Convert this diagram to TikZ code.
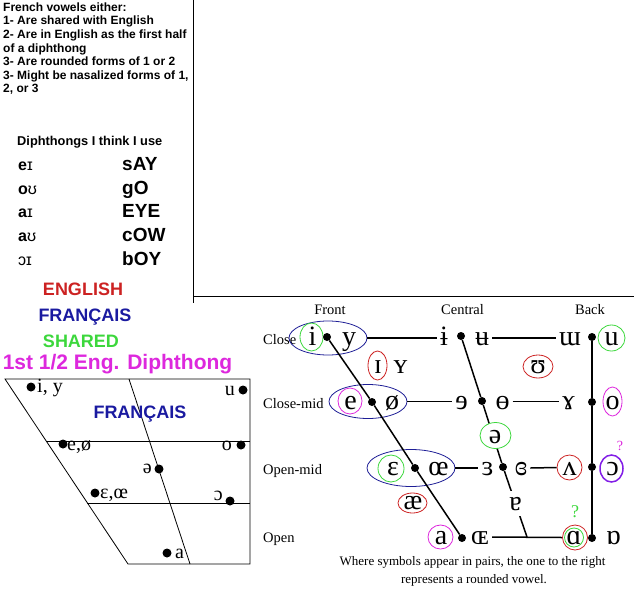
\documentclass[tikz,border=0pt]{standalone}
\usepackage{fontspec}
\setmainfont{Liberation Serif}
\setsansfont{Liberation Sans}
\usetikzlibrary{shapes.geometric}

\definecolor{engred}{RGB}{204,34,34}
\definecolor{frblue}{RGB}{26,26,160}
\definecolor{shgreen}{RGB}{60,215,60}
\definecolor{diphmag}{RGB}{221,40,221}
\definecolor{ringblue}{RGB}{30,30,150}
\definecolor{ringviolet}{RGB}{130,30,230}

\begin{document}
\begin{tikzpicture}[x=1pt,y=-1pt,
  note/.style={anchor=base west, inner sep=0pt, font=\sffamily\bfseries\fontsize{12}{14}\selectfont},
  diph/.style={anchor=base west, inner sep=0pt, font=\sffamily\bfseries\fontsize{16}{18}\selectfont},
  keyword/.style={anchor=base west, inner sep=0pt, font=\sffamily\bfseries\fontsize{19}{22}\selectfont},
  legend/.style={anchor=base, inner sep=0pt, font=\sffamily\bfseries\fontsize{18}{20}\selectfont},
  frdot/.style={circle, fill, inner sep=0pt, minimum size=9pt},
  frlabel/.style={inner sep=0pt, font=\fontsize{20}{22}\selectfont},
  vowel/.style={font=\fontsize{28}{30}\selectfont, text height=15pt, text depth=0pt, inner xsep=3pt, inner ysep=0pt},
  vdot/.style={circle, fill, inner sep=0pt, minimum size=8pt},
  ring/.style={ellipse, draw=#1, line width=0.8pt, inner sep=0pt},
  chartlabel/.style={inner sep=0pt, font=\fontsize{14.5}{16}\selectfont},
  chartline/.style={line width=1.5pt},
]
\useasboundingbox (0,0) rectangle (634,613);

% separators
\draw[line width=1pt] (193,0) -- (193,303);
\draw[line width=1pt] (193,296) -- (634,296);

% notes, top left
\foreach \txt [count=\k from 0] in {French vowels either:, 1- Are shared with English,
    2- Are in English as the first half, of a diphthong, 3- Are rounded forms of 1 or 2,
    {3- Might be nasalized forms of 1,}, {2, or 3}}
  \node[note] (note\k) at (3,11.3+13.6*\k) {\txt};

% diphthongs
\node[anchor=base west, inner sep=0pt, font=\sffamily\bfseries\fontsize{12.8}{14}\selectfont] (diphtitle) at (17,145) {Diphthongs I think I use};
\foreach \ipa/\word [count=\k from 0] in {e{\mdseries ɪ}/sAY, o{\mdseries ʊ}/gO, a{\mdseries ɪ}/EYE, a{\mdseries ʊ}/cOW, {\mdseries ɔɪ}/bOY} {
  \node[diph] (ipa\k) at (18,170.7+23.6*\k) {\ipa};
  \node[keyword] (word\k) at (122,170.7+23.6*\k) {\word};
}

% legend
\node[legend, text=engred] (keyEng) at (83,295) {ENGLISH};
\node[legend, text=frblue] (keyFr) at (85,321) {FRANÇAIS};
\node[legend, text=shgreen] (keyShared) at (81,347.5) {SHARED};
\node[legend, text=diphmag, font=\sffamily\bfseries\fontsize{21}{24}\selectfont] (keyDiph) at (117.5,369) {1st 1/2 Eng. Diphthong};

% French vowel chart
\draw[line width=0.8pt] (5,379) -- (250,379) -- (250,564) -- (128,564) -- cycle;
\draw[line width=0.8pt] (46,441) -- (250,441);
\draw[line width=0.8pt] (87,503) -- (250,503);
\draw[line width=0.8pt] (129,379) -- (190,564);
\foreach \dx/\dy [count=\k] in {31/387, 243/390, 63/444, 241/445, 159/469, 95/493, 230/501, 167/553}
  \node[frdot] (frdot\k) at (\dx,\dy) {};
\node[frlabel, anchor=base west] (frIY) at (37,392) {i, y};
\node[frlabel, anchor=base east] (frU) at (235,395) {u};
\node[legend, text=frblue] (frTitle) at (140,418) {FRANÇAIS};
\node[frlabel, anchor=base west] (frEO) at (67,450) {e,ø};
\node[frlabel, anchor=base east] (frO) at (232,450) {o};
\node[frlabel, anchor=base east] (frSchwa) at (152,473) {ə};
\node[frlabel, anchor=base west] (frEpsOE) at (100,498) {ɛ,œ};
\node[frlabel, anchor=base east] (frOpenO) at (223,500) {ɔ};
\node[frlabel, anchor=base west] (frA) at (175,558) {a};

% IPA chart headings
\node[chartlabel, anchor=base] (hFront) at (330,314) {Front};
\node[chartlabel, anchor=base] (hCentral) at (462.5,314) {Central};
\node[chartlabel, anchor=base] (hBack) at (590,314) {Back};
\node[chartlabel, anchor=base west] (rClose) at (263,344.3) {Close};
\node[chartlabel, anchor=base west] (rCloseMid) at (263,408) {Close-mid};
\node[chartlabel, anchor=base west] (rOpenMid) at (263,474) {Open-mid};
\node[chartlabel, anchor=base west] (rOpen) at (263,542) {Open};

% rings
\node[ring=ringblue, minimum width=78, minimum height=34] (ringCF) at (328,338) {};
\node[ring=shgreen, minimum width=23, minimum height=28] (ringI) at (311.5,337) {};
\node[ring=engred, minimum width=19, minimum height=29] (ringSmallI) at (377.5,365.5) {};
\node[ring=ringblue, minimum width=78, minimum height=34] (ringMF) at (368,401.5) {};
\node[ring=diphmag, minimum width=24, minimum height=26] (ringE) at (350,401) {};
\node[ring=engred, minimum width=30, minimum height=23] (ringUpsilon) at (538,366.5) {};
\node[ring=shgreen, minimum width=27, minimum height=26] (ringU) at (611.5,338) {};
\node[ring=diphmag, minimum width=19, minimum height=29] (ringO) at (612.5,401.5) {};
\node[ring=ringblue, minimum width=88, minimum height=37] (ringOMF) at (411,468) {};
\node[ring=shgreen, minimum width=26, minimum height=27] (ringEps) at (391,468.5) {};
\node[ring=engred, minimum width=29, minimum height=20] (ringAsh) at (412.5,503) {};
\node[ring=engred, minimum width=25, minimum height=25] (ringWedge) at (569.5,467.5) {};
\node[ring=ringviolet, line width=1.5pt, minimum width=23, minimum height=27] (ringOpenO) at (611.5,468.5) {};
\node[ring=diphmag, minimum width=25, minimum height=24] (ringA) at (440.5,537) {};
\node[ring=engred, minimum width=25, minimum height=25] (ringAlpha) at (575,537.5) {};
\node[ring=shgreen, minimum width=19, minimum height=19] (ringAlphaIn) at (574,537.5) {};

% vowels
\node[vowel] (vI) at (312.5,338) {i};
\node[vowel] (vY) at (349,338) {y};
\node[vowel] (vBarI) at (444,338) {ɨ};
\node[vowel] (vBarU) at (482,338) {ʉ};
\node[vowel] (vTurnM) at (570,338) {ɯ};
\node[vowel] (vU) at (611.5,338) {u};
\node[vowel] (vSmallI) at (378,366) {ɪ};
\node[vowel] (vSmallY) at (400.5,366) {ʏ};
\node[vowel] (vUpsilon) at (538,366) {ʊ};
\node[vowel] (vE) at (350.5,401.5) {e};
\node[vowel] (vSlashO) at (392,401.5) {ø};
\node[vowel] (vRevE) at (461.5,401.5) {ɘ};
\node[vowel] (vBarO) at (502.5,401.5) {ɵ};
\node[vowel] (vRamsHorn) at (568.5,401.5) {ɤ};
\node[vowel] (vO) at (612.5,401.5) {o};
\node[vowel] (vEps) at (393,468) {ɛ};
\node[vowel] (vOE) at (438.5,468) {œ};
\node[vowel] (vRevEps) at (487.5,468) {ɜ};
\node[vowel] (vClRevEps) at (521,468) {ɞ};
\node[vowel] (vWedge) at (569.5,468) {ʌ};
\node[vowel] (vOpenO) at (612.5,468) {ɔ};
\node[vowel] (vAsh) at (413,502) {æ};
\node[vowel] (vA) at (441,537) {a};
\node[vowel] (vSmallCapOE) at (480,537) {ɶ};
\node[vowel] (vAlpha) at (574,537) {ɑ};
\node[vowel] (vTurnAlpha) at (613.5,537) {ɒ};

% dots
\foreach \nm/\dx/\dy in {dCF/327/337, dCC/461/336, dCB/592/337, dMF/372/402, dMC/482/401,
    dMB/592/402, dOMF/415/468, dOMC/503/467, dOMB/592/467, dOF/462/538, dOB/592/538}
  \node[vdot] (\nm) at (\dx,\dy) {};
\coordinate (openC) at (527,537);

% chart lines
\draw[chartline] (ringCF.east) -- (vBarI.west);
\draw[chartline] (vBarU.east) -- (vTurnM.west);
\draw[chartline] (ringMF.east) -- (vRevE.west);
\draw[chartline] (vBarO.east) -- (vRamsHorn.west);
\draw[chartline] (ringOMF.east) -- (vRevEps.west);
\draw[chartline] (vClRevEps.east) -- (ringWedge.west);
\draw[chartline] (vSmallCapOE.east) -- (ringAlpha.west);
\draw[chartline] (dCF) -- (dMF) -- (dOMF) -- (dOF);
\draw[chartline] (dCC) -- (dMC) -- (dOMC) -- (openC);
\draw[chartline] (dCB) -- (dMB) -- (dOMB) -- (dOB);

% schwa and turned a sit on the central line
\node[ring=shgreen, fill=white, minimum width=31, minimum height=26] (ringSchwa) at (495.5,435.5) {};
\node[vowel] (vSchwa) at (495,435.5) {ə};
\node[vowel, fill=white, inner ysep=5pt] (vTurnA) at (515.5,503) {ɐ};

% question marks
\node[text=diphmag, inner sep=0pt, font=\fontsize{14}{14}\selectfont] (qOpenO) at (620,446) {?};
\node[text=shgreen, inner sep=0pt, font=\fontsize{18}{18}\selectfont] (qAlpha) at (575,512) {?};

% caption
\node[anchor=base, inner sep=0pt, font=\fontsize{13}{15}\selectfont] (caption1) at (472.5,565) {Where symbols appear in pairs, the one to the right};
\node[anchor=base, inner sep=0pt, font=\fontsize{13}{15}\selectfont] (caption2) at (474,583) {represents a rounded vowel.};
\end{tikzpicture}
\end{document}
